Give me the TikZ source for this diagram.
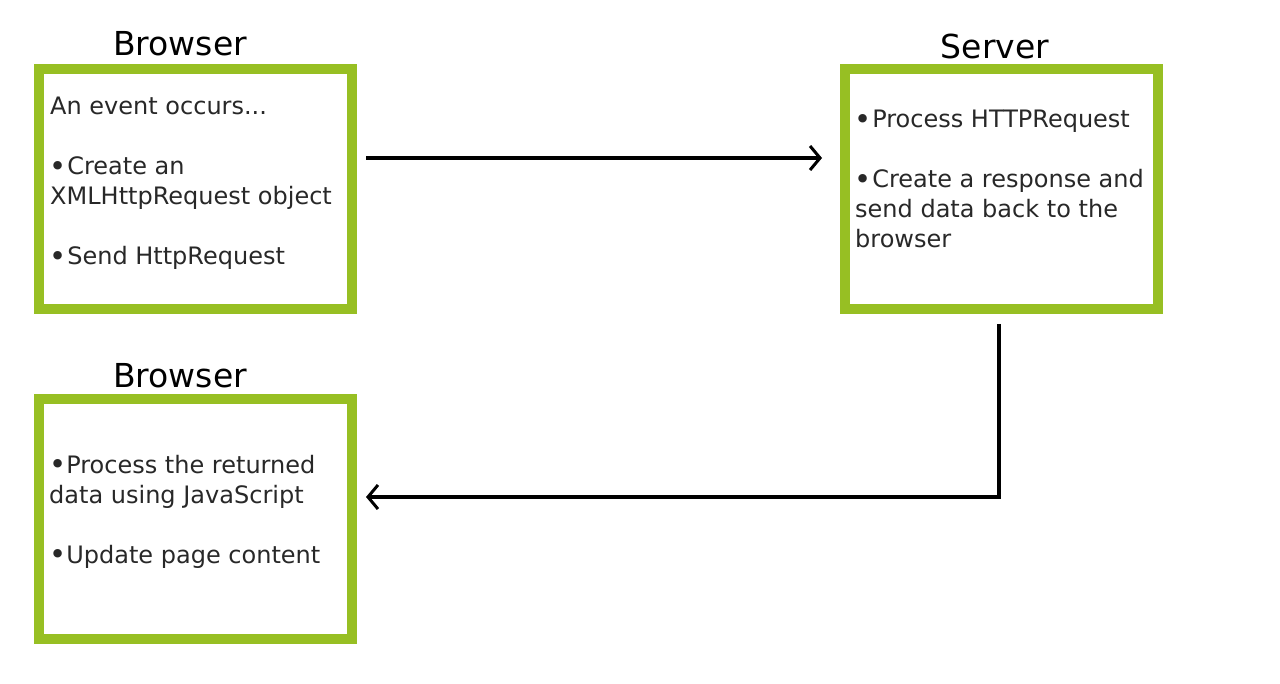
\documentclass[tikz,border=0pt]{standalone}
\usepackage{fontspec}
\setmainfont{DejaVu Sans}
\usetikzlibrary{arrows.meta}
\definecolor{boxgreen}{RGB}{151,191,35}
\definecolor{txtgray}{RGB}{40,40,40}
\newcommand\mybul{{\fontsize{29}{29}\selectfont\raisebox{-1.5pt}{\textbullet}}}
\begin{document}
\begin{tikzpicture}[x=1pt,y=-1pt,
  box/.style={draw=boxgreen, fill=white, line width=10pt, minimum width=313pt, minimum height=240pt, inner sep=0pt, outer sep=0pt},
  boxtitle/.style={font=\fontsize{33}{38}\selectfont, text=black, anchor=base, inner sep=0pt},
  txtline/.style={font=\fontsize{24}{29}\selectfont, text=txtgray, anchor=base west, inner sep=0pt},
  flow/.style={line width=4pt, -{Straight Barb[length=10pt,width=24pt,line width=3pt]}}]
\useasboundingbox (0,0) rectangle (1280,684);
\fill[white] (0,0) rectangle (1280,684);

\node[box] (b1) at (195.5,189) {};
\node[box] (b2) at (1001.5,189) {};
\node[box] (b3) at (195.5,519) {};

\node[boxtitle] (t1) at (180,56) {Browser};
\node[boxtitle] (t2) at (995,59) {Server};
\node[boxtitle] (t3) at (180,388) {Browser};

\node[txtline] (l11) at (50,115) {An event occurs...};
\node[txtline] (l12) at (49,175) {\mybul\kern1pt Create an};
\node[txtline] (l13) at (50,205) {XMLHttpRequest object};
\node[txtline] (l14) at (49,265) {\mybul\kern1pt Send HttpRequest};

\node[txtline] (l21) at (854,128) {\mybul\kern1pt Process HTTPRequest};
\node[txtline] (l22) at (854,188) {\mybul\kern1pt Create a response and};
\node[txtline] (l23) at (855,218) {send data back to the};
\node[txtline] (l24) at (855,248) {browser};

\node[txtline] (l31) at (49,473) {\mybul Process the returned};
\node[txtline] (l32) at (49,503) {data using JavaScript};
\node[txtline] (l33) at (49,563) {\mybul Update page content};

\draw[flow, shorten <=14pt, shorten >=23pt] ([yshift=31pt]b1.east) -- ([yshift=31pt]b2.west);
\draw[flow, shorten <=15pt, shorten >=14pt] ([xshift=-2.5pt]b2.south) |- ([yshift=22pt]b3.east);
\end{tikzpicture}
\end{document}
